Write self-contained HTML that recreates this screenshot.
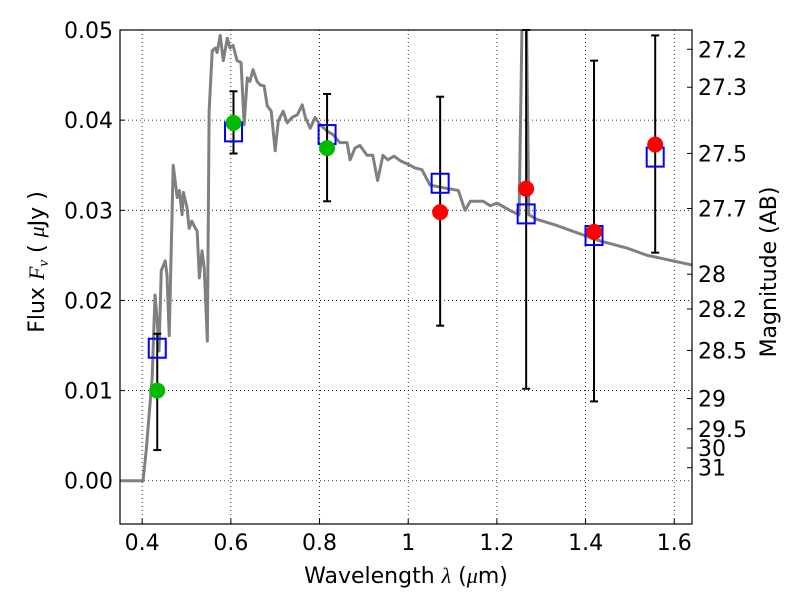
<!DOCTYPE html>
<html><head><meta charset="utf-8"><style>
body{margin:0;background:#fff;}
svg{display:block;font-family:"DejaVu Sans","Liberation Sans",sans-serif;}
</style></head><body>
<svg id="chart" width="800" height="600"></svg>
<script>
const specLam=[0.35,0.402,0.409,0.4225,0.429,0.434,0.438,0.443,0.452,0.456,0.461,0.470,0.479,0.484,0.490,0.493,0.501,0.506,0.512,0.520,0.524,0.529,0.535,0.540,0.547,0.551,0.558,0.565,0.569,0.576,0.583,0.592,0.598,0.605,0.614,0.623,0.630,0.637,0.643,0.650,0.659,0.666,0.675,0.682,0.691,0.700,0.707,0.718,0.727,0.738,0.750,0.761,0.768,0.779,0.790,0.801,0.817,0.830,0.846,0.862,0.869,0.880,0.891,0.907,0.920,0.931,0.943,0.954,0.968,0.982,1.004,1.015,1.031,1.049,1.079,1.113,1.128,1.140,1.169,1.185,1.200,1.229,1.250,1.259,1.265,1.272,1.290,1.336,1.381,1.433,1.494,1.539,1.568,1.643];
const specFlux=[0,0,0.0033,0.0114,0.0206,0.0177,0.0144,0.0233,0.0244,0.0228,0.0161,0.035,0.0314,0.0322,0.0295,0.032,0.0303,0.028,0.0288,0.028,0.0277,0.0225,0.0255,0.0236,0.0155,0.041,0.0477,0.048,0.0475,0.0494,0.0466,0.0491,0.048,0.0483,0.0466,0.0464,0.0395,0.0447,0.0443,0.0456,0.0443,0.0439,0.0438,0.0416,0.041,0.0366,0.0399,0.041,0.0397,0.0403,0.0406,0.0417,0.0403,0.0391,0.0403,0.0395,0.0388,0.0384,0.0375,0.0375,0.0356,0.0369,0.0372,0.0361,0.0361,0.0333,0.0361,0.0356,0.036,0.0355,0.035,0.0347,0.0345,0.0328,0.0325,0.0322,0.030,0.031,0.031,0.0305,0.0308,0.030,0.0295,0.058,0.058,0.0295,0.029,0.0283,0.0275,0.0266,0.0258,0.025,0.0247,0.0239];
const ptLam=[0.434,0.606,0.817,1.072,1.266,1.419,1.557];
const ptFlux=[0.01,0.0397,0.0369,0.0298,0.0324,0.0276,0.0373];
const ptColor=["#00bb00","#00bb00","#00bb00","#ff0000","#ff0000","#ff0000","#ff0000"];
const errLo=[0.0034,0.0363,0.031,0.0172,0.0102,0.0088,0.0253];
const errHi=[0.0163,0.0432,0.0429,0.0426,0.0500,0.0466,0.0494];
const modelFlux=[0.0147,0.0387,0.0384,0.033,0.0296,0.0272,0.0359];
const xTicks=[0.4,0.6,0.8,1.0,1.2,1.4,1.6];
const xTickLabels=["0.4","0.6","0.8","1","1.2","1.4","1.6"];
const yTicks=[0,0.01,0.02,0.03,0.04,0.05];
const yTickLabels=["0.00","0.01","0.02","0.03","0.04","0.05"];
const magTicks=[27.2,27.3,27.5,27.7,28,28.2,28.5,29,29.5,30,31];
const magLabels=["27.2","27.3","27.5","27.7","28","28.2","28.5","29","29.5","30","31"];

const L=120,R=692,T=30,B=524,X0=0.35,X1=1.64,Y0=-0.0048,Y1=0.05;
const sx=v=>L+(v-X0)/(X1-X0)*(R-L);
const sy=v=>B-(v-Y0)/(Y1-Y0)*(B-T);
const svg=document.getElementById('chart');
const NS="http://www.w3.org/2000/svg";
function mk(tag,attrs,parent){const e=document.createElementNS(NS,tag);for(const k in attrs)e.setAttribute(k,attrs[k]);(parent||svg).appendChild(e);return e;}
const defs=mk('defs',{});const cp=mk('clipPath',{id:'clip'},defs);mk('rect',{x:L,y:T,width:R-L,height:B-T},cp);
const FS=22;
xTicks.forEach((v,i)=>{
 const g=mk('line',{x1:sx(v),x2:sx(v),y1:T,y2:B,stroke:'#000','stroke-width':0.8,'stroke-dasharray':'1,3'});
 
 const tk=mk('line',{x1:sx(v),x2:sx(v),y1:B,y2:B-5,stroke:'#000'});
 
 const t=mk('text',{x:sx(v),y:B+26,'text-anchor':'middle','font-size':FS});t.textContent=xTickLabels[i];
 
});
yTicks.forEach((v,i)=>{
 const g=mk('line',{x1:L,x2:R,y1:sy(v),y2:sy(v),stroke:'#000','stroke-width':0.8,'stroke-dasharray':'1,3'});
 
 const tk=mk('line',{x1:L,x2:L+5,y1:sy(v),y2:sy(v),stroke:'#000'});
 
 const t=mk('text',{x:L-7,y:sy(v)+8,'text-anchor':'end','font-size':FS});t.textContent=yTickLabels[i];
 
});
magTicks.forEach((m,i)=>{
 const f=Math.pow(10,-0.4*(m-23.9));const y=sy(f);
 const tk=mk('line',{x1:R,x2:R-5,y1:y,y2:y,stroke:'#000'});
 
 const t=mk('text',{x:R+6,y:y+8,'font-size':FS});t.textContent=magLabels[i];
 
});
const sp=mk('polyline',{points:specLam.map((l,i)=>sx(l)+','+sy(specFlux[i])).join(' '),fill:'none',stroke:'#808080','stroke-width':3,'clip-path':'url(#clip)','stroke-linejoin':'round'});

ptLam.forEach((l,i)=>{
 const x=sx(l);
 const g=mk('g',{stroke:'#000','stroke-width':2});
 
 mk('line',{x1:x,x2:x,y1:sy(errLo[i]),y2:sy(errHi[i])},g);
 mk('line',{x1:x-4,x2:x+4,y1:sy(errLo[i]),y2:sy(errLo[i])},g);
 mk('line',{x1:x-4,x2:x+4,y1:sy(errHi[i]),y2:sy(errHi[i])},g);
});
ptLam.forEach((l,i)=>{
 const r=mk('rect',{x:sx(l)-8.5,y:sy(modelFlux[i])-9.5,width:17,height:19,fill:'none',stroke:'#0000ff','stroke-width':2});
 
});
ptLam.forEach((l,i)=>{
 const c=mk('circle',{cx:sx(l),cy:sy(ptFlux[i]),r:8,fill:ptColor[i]});
 
});
const fr=mk('rect',{x:L,y:T,width:R-L,height:B-T,fill:'none',stroke:'#000','stroke-width':1.2});


const xt=mk('text',{x:(L+R)/2,y:583,'text-anchor':'middle','font-size':FS});
xt.innerHTML='Wavelength  <tspan font-family="Liberation Serif" font-style="italic">λ</tspan> (<tspan font-family="Liberation Serif" font-style="italic">μ</tspan>m)';

const yt=mk('text',{x:0,y:0,'text-anchor':'middle','font-size':FS,transform:'translate(44,262) rotate(-90)'});
yt.innerHTML='Flux  <tspan font-family="Liberation Serif" font-style="italic">F<tspan font-size="15" dy="4">ν</tspan></tspan><tspan dy="-4">  (  </tspan><tspan font-family="Liberation Serif" font-style="italic">μ</tspan>Jy )';

const rt=mk('text',{x:0,y:0,'text-anchor':'middle','font-size':FS,transform:'translate(776,272) rotate(-90)'});
rt.textContent='Magnitude (AB)';

</script>
</body></html>
